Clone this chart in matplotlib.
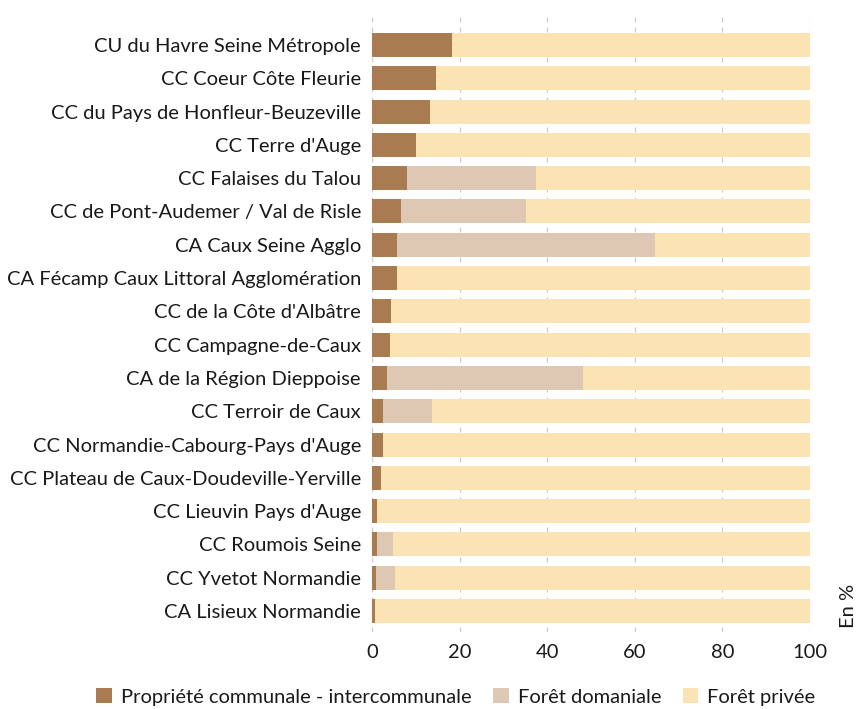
import numpy as np
import matplotlib.pyplot as plt

plt.rcParams['font.family'] = ['Lato', 'DejaVu Sans']

territoires = [
    "CU du Havre Seine Métropole",
    "CC Coeur Côte Fleurie",
    "CC du Pays de Honfleur-Beuzeville",
    "CC Terre d'Auge",
    "CC Falaises du Talou",
    "CC de Pont-Audemer / Val de Risle",
    "CA Caux Seine Agglo",
    "CA Fécamp Caux Littoral Agglomération",
    "CC de la Côte d'Albâtre",
    "CC Campagne-de-Caux",
    "CA de la Région Dieppoise",
    "CC Terroir de Caux",
    "CC Normandie-Cabourg-Pays d'Auge",
    "CC Plateau de Caux-Doudeville-Yerville",
    "CC Lieuvin Pays d'Auge",
    "CC Roumois Seine",
    "CC Yvetot Normandie",
    "CA Lisieux Normandie",
]
communale = [18.3, 14.6, 13.2, 10.0, 8.0, 6.6, 5.7, 5.7, 4.3, 4.1, 3.4, 2.5, 2.5, 2.1, 1.1, 1.1, 0.9, 0.7]
domaniale = [0.0, 0.0, 0.0, 0.0, 29.4, 28.6, 58.9, 0.0, 0.0, 0.0, 44.8, 11.2, 0.0, 0.0, 0.0, 3.7, 4.4, 0.0]
privee = [100 - c - d for c, d in zip(communale, domaniale)]

c_com = "#a87b50"
c_dom = "#dec8b4"
c_priv = "#fce3b4"
fs = 14.5

fig = plt.figure(figsize=(8.56, 7.09), dpi=100)
ax = fig.add_axes([372 / 856, 1 - 632 / 709, 438 / 856, 617 / 709])

y = np.arange(len(territoires))
h = 0.72
ax.barh(y, communale, height=h, color=c_com, label="Propriété communale - intercommunale", zorder=3)
ax.barh(y, domaniale, height=h, left=communale, color=c_dom, label="Forêt domaniale", zorder=3)
left2 = [c + d for c, d in zip(communale, domaniale)]
ax.barh(y, privee, height=h, left=left2, color=c_priv, label="Forêt privée", zorder=3)

ax.set_xlim(0, 100)
ax.set_ylim(len(territoires) - 1 + 0.63, -0.9)
ax.set_xticks([0, 20, 40, 60, 80, 100])
ax.set_yticks(y)
ax.set_yticklabels(territoires)
ax.xaxis.grid(True, color="#cccccc", linestyle=(0, (4, 4)), linewidth=0.9, zorder=0)
ax.tick_params(axis="y", length=0, pad=8, labelsize=fs, labelcolor="#1a1a1a")
ax.tick_params(axis="x", length=0, pad=9, labelsize=fs, labelcolor="#1a1a1a")
for s in ax.spines.values():
    s.set_visible(False)

fig.text(848 / 856, 1 - 606 / 709, "En %", rotation=90, ha="center", va="center",
         fontsize=fs, color="#1a1a1a")

leg = ax.legend(loc="center", bbox_to_anchor=(456 / 856, 1 - 697 / 709),
                bbox_transform=fig.transFigure, ncol=3, frameon=False, fontsize=fs,
                handlelength=0.75, handleheight=0.75, columnspacing=1.1, handletextpad=0.45)
for t in leg.get_texts():
    t.set_color("#1a1a1a")

fig.savefig("out.png", dpi=100)
